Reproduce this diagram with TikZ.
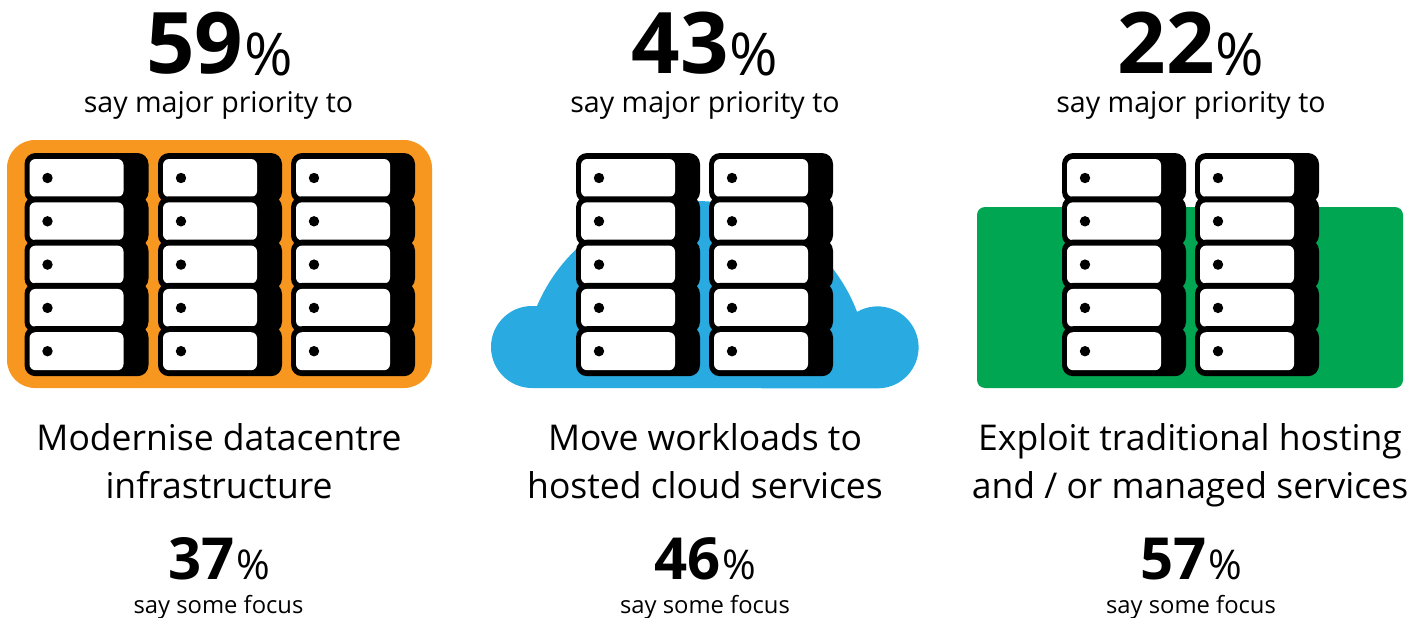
\documentclass[tikz,border=0pt]{standalone}
\usepackage{fontspec}
\setmainfont{Open Sans}
\definecolor{orangebg}{HTML}{F8971F}
\definecolor{cloudbg}{HTML}{29ABE2}
\definecolor{greenbg}{HTML}{00A651}
\tikzset{
  rackbody/.style={fill=black,rounded corners=11pt},
  rackface/.style={fill=white,rounded corners=6pt},
  bignum/.style={anchor=base,inner sep=0pt,font=\fontsize{85}{85}\selectfont\bfseries},
  smallnum/.style={anchor=base,inner sep=0pt,font=\fontsize{58}{58}\selectfont\bfseries},
  saytop/.style={anchor=base,inner sep=0pt,font=\fontsize{28.6}{28.6}\selectfont},
  saybottom/.style={anchor=base,inner sep=0pt,font=\fontsize{23.8}{23.8}\selectfont},
  title/.style={anchor=base,inner sep=0pt,align=center,font=\fontsize{35.5}{48}\selectfont},
}
\newcommand{\pct}[1]{#1\kern1pt\raisebox{-1.5pt}{\fontsize{59}{59}\selectfont\mdseries\%}}
\newcommand{\pctsmall}[1]{#1\kern2pt{\fontsize{41}{41}\selectfont\mdseries\%}}
\begin{document}
\begin{tikzpicture}[x=1pt,y=-1pt]
 \useasboundingbox (0,0) rectangle (1424,618);
 % backgrounds
 \fill[orangebg,rounded corners=28pt] (7,140) rectangle (432,388);
 \fill[cloudbg] (532,388) arc (90:270:41) -- (537,306) arc (203.1:339:172.7)
   arc (240:450:41) -- cycle;
 \fill[greenbg,rounded corners=8pt] (977,207) rectangle (1403,388);
 % racks
 \foreach \x in {24.5,158,291,576,709,1062,1195}
  \foreach \y in {0,...,4} {
   \fill[rackbody] (\x,153+43.3*\y) rectangle +(124,50);
   \fill[rackface] (\x+5,159+43.3*\y) rectangle +(94,38);
   \fill (\x+23,178+43.3*\y) circle (5.2);
  }
 % column 1
 \node[bignum] (big1) at (219.5,74) {\pct{59}};
 \node[saytop] (say1) at (218.5,112) {say major priority to};
 \node[title] (title1) at (219,498) {Modernise datacentre\\infrastructure};
 \node[smallnum] (small1) at (219,579) {\pctsmall{37}};
 \node[saybottom] (some1) at (218.5,613) {say some focus};
 % column 2
 \node[bignum] (big2) at (705,74) {\pct{43}};
 \node[saytop] (say2) at (705,112) {say major priority to};
 \node[title] (title2) at (705,498) {Move workloads to\\hosted cloud services};
 \node[smallnum] (small2) at (705,579) {\pctsmall{46}};
 \node[saybottom] (some2) at (705,613) {say some focus};
 % column 3
 \node[bignum] (big3) at (1191,74) {\pct{22}};
 \node[saytop] (say3) at (1191,112) {say major priority to};
 \node[title] (title3) at (1190,498) {Exploit traditional hosting\\and / or managed services};
 \node[smallnum] (small3) at (1191,579) {\pctsmall{57}};
 \node[saybottom] (some3) at (1191,613) {say some focus};
\end{tikzpicture}
\end{document}
